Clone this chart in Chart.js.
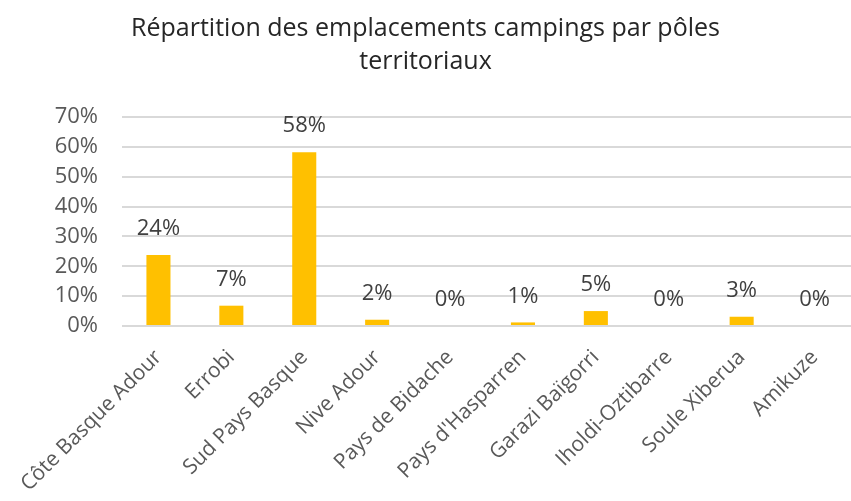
<!DOCTYPE html>
<html>
<head>
<meta charset="utf-8">
<script src="https://cdn.jsdelivr.net/npm/chart.js@4/dist/chart.umd.min.js"></script>
<style>
  html, body { margin: 0; padding: 0; background: #fff; }
  #wrap { width: 851px; height: 501px; position: relative; }
</style>
</head>
<body>
<div id="wrap"><canvas id="chart"></canvas></div>
<script>
// Répartition des emplacements campings par pôles territoriaux
const poles = [
    'Côte Basque Adour', 'Errobi', 'Sud Pays Basque', 'Nive Adour', 'Pays de Bidache',
    "Pays d'Hasparren", 'Garazi Baïgorri', 'Iholdi-Oztibarre', 'Soule Xiberua', 'Amikuze'
];
const parts = [0.238, 0.068, 0.582, 0.021, 0, 0.012, 0.05, 0, 0.031, 0];
const yTicks = [0, 0.1, 0.2, 0.3, 0.4, 0.5, 0.6, 0.7];

const FONT = "'Open Sans', 'Noto Sans', sans-serif";
const pct = v => Math.round(v * 100) + '%';

// valeurs au-dessus des barres
const valueLabels = {
    id: 'valueLabels',
    afterDatasetsDraw(chart) {
        const ctx = chart.ctx;
        const meta = chart.getDatasetMeta(0);
        ctx.save();
        ctx.font = '22px ' + FONT;
        ctx.fillStyle = '#404040';
        ctx.textAlign = 'center';
        ctx.textBaseline = 'middle';
        meta.data.forEach((bar, i) => {
            ctx.fillText(pct(parts[i]), bar.x, bar.y - 26);
        });
        ctx.restore();
    }
};

new Chart(document.getElementById('chart'), {
    type: 'bar',
    data: {
        labels: poles,
        datasets: [{
            data: parts,
            backgroundColor: '#FFC000',
            barPercentage: 0.33,
            categoryPercentage: 1
        }]
    },
    options: {
        responsive: true,
        maintainAspectRatio: false,
        animation: false,
        layout: { padding: 0 },
        plugins: {
            legend: { display: false },
            tooltip: { enabled: false },
            title: {
                display: true,
                text: ['Répartition des emplacements campings par pôles', 'territoriaux'],
                color: '#262626',
                font: { family: FONT, size: 25, weight: 'normal', lineHeight: 1.3 },
                padding: { top: 13, bottom: 39 }
            }
        },
        scales: {
            y: {
                min: 0,
                max: 0.7,
                afterBuildTicks(scale) {
                    scale.ticks = yTicks.map(v => ({ value: v }));
                },
                afterFit(scale) { scale.width = 122; },
                border: { display: false },
                grid: { color: '#d9d9d9', lineWidth: 2, drawTicks: false },
                ticks: {
                    color: '#595959',
                    padding: 24,
                    font: { family: FONT, size: 22 },
                    callback: v => pct(v)
                }
            },
            x: {
                afterFit(scale) {
                    scale.height = 175;
                    scale.paddingLeft = 0;
                    scale.paddingRight = 0;
                },
                border: { display: false },
                grid: { display: false, drawTicks: false },
                ticks: {
                    color: '#595959',
                    padding: 19,
                    maxRotation: 45,
                    minRotation: 45,
                    autoSkip: false,
                    font: { family: FONT, size: 21 }
                }
            }
        }
    },
    plugins: [valueLabels]
});
</script>
</body>
</html>
